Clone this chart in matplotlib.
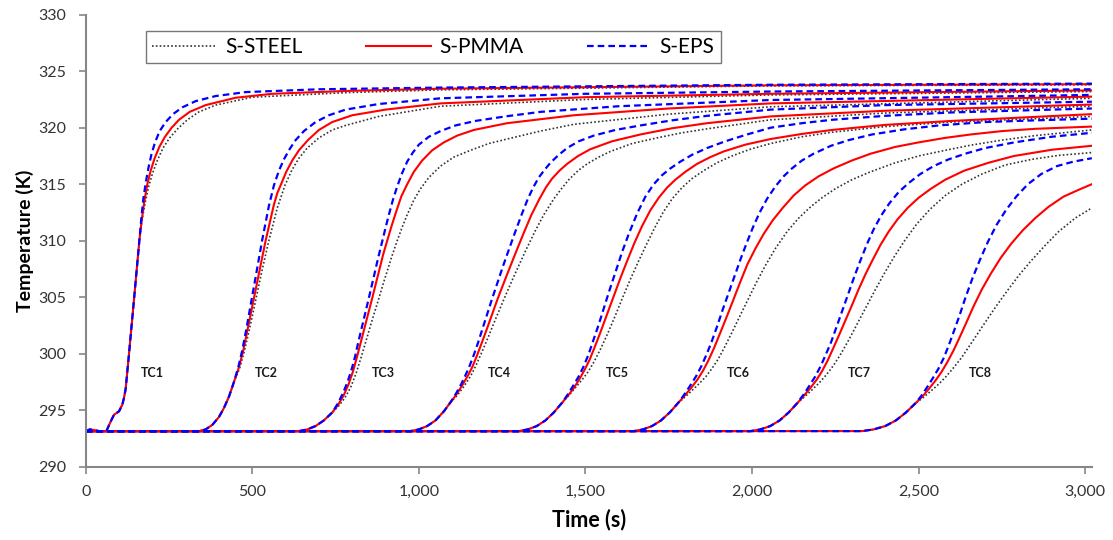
import matplotlib.pyplot as plt
from matplotlib.ticker import FuncFormatter, MultipleLocator

plt.rcParams['font.family'] = ['Lato', 'DejaVu Sans']

# Thermocouple histories TC1..TC8, time in s and temperature in K.
# tcN_base_* is the common start of the three specimens, the per-material
# lists continue from there.
tc1_base_t = [0, 12, 25, 40, 62, 75, 85, 100, 110, 115, 120, 130, 145, 161]
tc1_base = [293.15, 293.3, 293.25, 293.15, 293.15, 294.0, 294.6, 294.9, 295.5, 296.1, 296.9, 300.0, 304.8, 310.0]
tc1_t_steel = [169, 178, 189, 201, 215, 232, 252, 276, 305, 340, 390, 500, 780, 1065, 2056, 3020]
tc1_steel = [311.8, 313.3, 314.8, 316.0, 317.1, 318.2, 319.1, 319.9, 320.7, 321.4, 322.0, 322.7, 323.1, 323.35, 323.7, 323.8]
tc1_t_pmma = [168, 176, 185, 195, 207, 221, 238, 258, 280, 312, 360, 450, 560, 780, 1065, 2056, 3020]
tc1_pmma = [311.8, 313.5, 315.0, 316.2, 317.3, 318.3, 319.2, 320.0, 320.7, 321.4, 322.0, 322.65, 323.0, 323.25, 323.45, 323.75, 323.85]
tc1_t_eps = [167, 173, 180, 188, 197, 208, 222, 240, 262, 290, 330, 390, 480, 700, 1065, 2056, 3020]
tc1_eps = [312.0, 313.7, 315.1, 316.4, 317.6, 318.7, 319.7, 320.5, 321.2, 321.8, 322.35, 322.8, 323.15, 323.4, 323.55, 323.8, 323.9]

tc2_base_t = [0, 340, 360, 380, 400, 415, 430, 445]
tc2_base = [293.15, 293.15, 293.3, 293.7, 294.4, 295.2, 296.2, 297.5]
tc2_t_steel = [462, 476, 491, 505, 525, 548, 575, 598, 618, 640, 665, 700, 740, 780, 880, 1065, 1500, 2056, 3020]
tc2_steel = [298.7, 300.2, 302.1, 304.0, 306.8, 309.8, 312.9, 314.9, 316.2, 317.3, 318.2, 319.1, 319.8, 320.2, 321.0, 321.9, 322.5, 322.9, 323.2]
tc2_t_pmma = [460, 473, 487, 500, 520, 540, 565, 575, 585, 602, 620, 640, 667, 700, 740, 800, 900, 1065, 1500, 2056, 3020]
tc2_pmma = [298.8, 300.3, 302.3, 304.2, 307.1, 310.0, 313.2, 314.2, 314.9, 316.1, 317.1, 318.0, 318.9, 319.8, 320.5, 321.1, 321.6, 322.15, 322.7, 323.0, 323.3]
tc2_t_eps = [458, 470, 483, 495, 512, 530, 550, 565, 580, 595, 612, 630, 655, 690, 730, 780, 880, 1065, 1500, 2056, 3020]
tc2_eps = [298.8, 300.3, 302.3, 304.3, 307.1, 310.1, 313.1, 314.9, 316.2, 317.2, 318.1, 318.9, 319.7, 320.5, 321.1, 321.6, 322.1, 322.6, 323.0, 323.2, 323.4]

tc3_base_t = [0, 640, 665, 690, 715, 740]
tc3_base = [293.15, 293.15, 293.3, 293.6, 294.1, 294.8]
tc3_t_steel = [760, 778, 795, 812, 828, 845, 862, 879, 893, 907, 921, 935, 950, 965, 985, 1005, 1030, 1065,
               1105, 1155, 1210, 1265, 1365, 1465, 1750, 2056, 3020]
tc3_steel = [295.4, 296.1, 297.0, 298.3, 299.8, 301.5, 303.2, 304.8, 306.2, 307.5, 308.8, 310.0, 311.2, 312.3,
             313.6, 314.6, 315.6, 316.6, 317.4, 318.0, 318.6, 319.0, 319.7, 320.3, 321.2, 321.85, 322.6]
tc3_t_pmma = [758, 774, 789, 802, 815, 830, 844, 859, 870, 882, 893, 905, 917, 930, 947, 965, 985, 1010,
              1040, 1075, 1115, 1165, 1265, 1465, 1750, 2056, 3020]
tc3_pmma = [295.5, 296.3, 297.3, 298.4, 299.8, 301.5, 303.1, 304.8, 306.1, 307.5, 308.8, 310.0, 311.2, 312.4,
            313.9, 315.0, 316.1, 317.1, 318.0, 318.7, 319.3, 319.8, 320.4, 321.1, 321.7, 322.15, 322.75]
tc3_t_eps = [757, 772, 786, 799, 809, 818, 831, 844, 856, 867, 878, 888, 898, 910, 922, 935, 950, 965, 982,
             1000, 1030, 1065, 1110, 1170, 1260, 1365, 1600, 2056, 3020]
tc3_eps = [295.6, 296.5, 297.5, 298.7, 299.8, 301.0, 302.6, 304.2, 305.7, 307.1, 308.5, 309.7, 310.9, 312.3,
           313.6, 314.8, 316.0, 317.0, 317.8, 318.5, 319.2, 319.7, 320.2, 320.6, 321.0, 321.4, 321.9, 322.45, 322.9]

tc4_base_t = [0, 974, 1000, 1025, 1050, 1075, 1095]
tc4_base = [293.15, 293.15, 293.3, 293.6, 294.1, 294.9, 295.7]
tc4_t_steel = [1115, 1135, 1155, 1172, 1190, 1210, 1232, 1255, 1280, 1303, 1325, 1348, 1375, 1405, 1428, 1450,
               1478, 1505, 1540, 1575, 1640, 1715, 1790, 1865, 2056, 2400, 3020]
tc4_steel = [296.3, 297.1, 298.0, 299.0, 300.2, 301.6, 303.2, 304.8, 306.5, 308.0, 309.4, 310.8, 312.3, 313.7,
             314.6, 315.4, 316.2, 316.8, 317.4, 317.9, 318.6, 319.1, 319.55, 319.9, 320.7, 321.3, 321.9]
tc4_t_pmma = [1113, 1130, 1146, 1160, 1174, 1188, 1203, 1220, 1237, 1258, 1278, 1297, 1315, 1338, 1362, 1381,
              1400, 1422, 1445, 1478, 1515, 1580, 1665, 1760, 1865, 2056, 2400, 3020]
tc4_pmma = [296.4, 297.2, 298.0, 298.8, 299.8, 300.9, 302.1, 303.5, 304.9, 306.5, 308.0, 309.4, 310.7, 312.3,
            313.7, 314.7, 315.5, 316.2, 316.8, 317.5, 318.1, 318.8, 319.4, 319.95, 320.4, 321.0, 321.5, 322.05]
tc4_t_eps = [1112, 1127, 1140, 1152, 1165, 1178, 1192, 1205, 1218, 1235, 1252, 1270, 1287, 1307, 1327, 1343,
             1360, 1378, 1395, 1420, 1445, 1480, 1525, 1590, 1665, 1760, 1865, 2056, 2400, 3020]
tc4_eps = [296.5, 297.3, 298.1, 298.9, 299.9, 301.0, 302.3, 303.5, 304.7, 306.2, 307.7, 309.2, 310.6, 312.2,
           313.7, 314.7, 315.6, 316.3, 316.9, 317.6, 318.2, 318.8, 319.3, 319.8, 320.2, 320.65, 321.05, 321.6,
           322.0, 322.3]

tc5_base_t = [0, 1300, 1327, 1354, 1380, 1405, 1428]
tc5_base = [293.15, 293.15, 293.3, 293.6, 294.1, 294.8, 295.6]
tc5_t_steel = [1450, 1470, 1490, 1508, 1526, 1545, 1567, 1590, 1612, 1635, 1658, 1682, 1707, 1733, 1760, 1790,
               1820, 1855, 1895, 1940, 1995, 2056, 2150, 2240, 2400, 2600, 3020]
tc5_steel = [296.3, 297.0, 297.7, 298.4, 299.3, 300.4, 301.8, 303.4, 305.0, 306.6, 308.1, 309.6, 311.1, 312.5,
             313.7, 314.7, 315.5, 316.2, 316.9, 317.5, 318.1, 318.6, 319.2, 319.6, 320.1, 320.5, 321.0]
tc5_t_pmma = [1448, 1466, 1483, 1498, 1513, 1528, 1545, 1565, 1585, 1605, 1625, 1647, 1670, 1695, 1720, 1745,
              1770, 1800, 1835, 1875, 1915, 1980, 2056, 2150, 2240, 2400, 2600, 3020]
tc5_pmma = [296.3, 297.0, 297.8, 298.6, 299.5, 300.6, 301.9, 303.5, 305.1, 306.7, 308.2, 309.8, 311.3, 312.7,
            313.8, 314.7, 315.4, 316.1, 316.8, 317.4, 317.9, 318.5, 319.0, 319.45, 319.8, 320.25, 320.6, 321.2]
tc5_t_eps = [1447, 1464, 1480, 1495, 1510, 1525, 1540, 1556, 1572, 1590, 1610, 1630, 1655, 1680, 1705, 1730,
             1755, 1785, 1820, 1865, 1920, 1985, 2056, 2150, 2240, 2400, 2600, 3020]
tc5_eps = [296.4, 297.2, 298.0, 298.9, 300.0, 301.3, 302.6, 304.1, 305.6, 307.2, 309.0, 310.6, 312.4, 313.9,
           315.0, 315.8, 316.4, 317.0, 317.6, 318.2, 318.8, 319.4, 320.0, 320.4, 320.7, 321.05, 321.35, 321.7]

tc6_base_t = [0, 1645, 1673, 1700, 1727, 1753, 1777]
tc6_base = [293.15, 293.15, 293.3, 293.6, 294.1, 294.8, 295.6]
tc6_t_steel = [1800, 1822, 1843, 1862, 1880, 1898, 1918, 1940, 1963, 1988, 2013, 2040, 2070, 2105, 2140, 2176,
               2210, 2250, 2300, 2356, 2430, 2500, 2580, 2656, 2750, 2850, 3020]
tc6_steel = [296.2, 296.8, 297.4, 298.0, 298.7, 299.5, 300.6, 301.9, 303.3, 304.8, 306.3, 307.8, 309.3, 310.8,
             312.0, 313.0, 313.8, 314.6, 315.4, 316.1, 316.9, 317.5, 318.0, 318.45, 318.9, 319.3, 319.8]
tc6_t_pmma = [1798, 1818, 1836, 1853, 1869, 1886, 1904, 1923, 1943, 1964, 1986, 2010, 2035, 2062, 2092, 2125,
              2160, 2200, 2245, 2300, 2356, 2430, 2500, 2580, 2656, 2750, 2850, 3020]
tc6_pmma = [296.3, 297.0, 297.7, 298.5, 299.4, 300.5, 301.8, 303.2, 304.7, 306.3, 307.9, 309.3, 310.6, 311.8,
            312.9, 314.0, 314.9, 315.7, 316.4, 317.1, 317.7, 318.3, 318.7, 319.1, 319.4, 319.7, 319.9, 320.1]
tc6_t_eps = [1797, 1815, 1832, 1848, 1863, 1878, 1895, 1912, 1930, 1948, 1966, 1984, 2003, 2023, 2045, 2070,
             2095, 2120, 2150, 2185, 2237, 2290, 2360, 2456, 2560, 2700, 2850, 3020]
tc6_eps = [296.4, 297.2, 298.0, 298.9, 299.9, 301.0, 302.4, 303.9, 305.4, 306.9, 308.4, 309.8, 311.2, 312.5,
           313.7, 314.8, 315.7, 316.4, 317.1, 317.7, 318.4, 318.9, 319.4, 319.85, 320.2, 320.5, 320.65, 320.8]

tc7_base_t = [0, 1995, 2025, 2055, 2083, 2110, 2135]
tc7_base = [293.15, 293.15, 293.3, 293.6, 294.1, 294.8, 295.6]
tc7_t_steel = [2158, 2180, 2201, 2222, 2243, 2265, 2290, 2315, 2340, 2367, 2395, 2425, 2458, 2495, 2535, 2580,
               2630, 2690, 2760, 2840, 2920, 3020]
tc7_steel = [296.2, 296.8, 297.4, 298.1, 298.9, 299.9, 301.2, 302.6, 304.0, 305.5, 307.0, 308.5, 310.0, 311.5,
             312.8, 314.0, 315.0, 315.9, 316.7, 317.2, 317.55, 317.8]
tc7_t_pmma = [2156, 2176, 2194, 2211, 2227, 2244, 2262, 2281, 2300, 2320, 2340, 2362, 2385, 2410, 2437, 2467,
              2500, 2537, 2580, 2637, 2710, 2787, 2900, 3020]
tc7_pmma = [296.3, 297.0, 297.7, 298.5, 299.4, 300.5, 301.7, 303.0, 304.3, 305.7, 307.0, 308.3, 309.6, 310.8,
            311.9, 312.9, 313.8, 314.6, 315.4, 316.2, 316.9, 317.5, 318.05, 318.4]
tc7_t_eps = [2155, 2173, 2190, 2206, 2221, 2237, 2254, 2272, 2290, 2308, 2326, 2345, 2365, 2387, 2412, 2440,
             2470, 2505, 2545, 2590, 2640, 2700, 2787, 2900, 3020]
tc7_eps = [296.4, 297.2, 298.0, 298.9, 299.9, 301.0, 302.4, 303.9, 305.4, 306.9, 308.3, 309.7, 311.0, 312.2,
           313.3, 314.3, 315.1, 315.9, 316.6, 317.2, 317.7, 318.2, 318.7, 319.2, 319.55]

tc8_base_t = [0, 2330, 2365, 2400, 2432, 2462, 2490]
tc8_base = [293.15, 293.15, 293.3, 293.6, 294.1, 294.8, 295.6]
tc8_t_steel = [2513, 2537, 2560, 2583, 2606, 2630, 2655, 2680, 2705, 2735, 2767, 2800, 2837, 2877, 2920, 2970, 3020]
tc8_steel = [296.1, 296.7, 297.3, 298.0, 298.8, 299.7, 300.8, 301.9, 303.0, 304.3, 305.6, 306.9, 308.2, 309.5,
             310.8, 312.0, 312.9]
tc8_t_pmma = [2511, 2531, 2550, 2569, 2587, 2605, 2624, 2644, 2665, 2690, 2717, 2747, 2777, 2812, 2850, 2890,
              2935, 2980, 3020]
tc8_pmma = [296.2, 296.9, 297.6, 298.4, 299.3, 300.3, 301.5, 302.8, 304.2, 305.7, 307.1, 308.5, 309.7, 310.9,
            312.0, 313.0, 313.9, 314.5, 315.0]
tc8_t_eps = [2509, 2527, 2544, 2560, 2575, 2590, 2606, 2623, 2641, 2662, 2684, 2708, 2734, 2762, 2793, 2828,
             2868, 2915, 2965, 3020]
tc8_eps = [296.3, 297.1, 297.9, 298.7, 299.6, 300.7, 302.0, 303.4, 305.0, 306.7, 308.3, 309.9, 311.4, 312.7,
           313.9, 315.0, 315.9, 316.6, 317.0, 317.3]

tc_names = ['TC1', 'TC2', 'TC3', 'TC4', 'TC5', 'TC6', 'TC7', 'TC8']
tc_label_t = [199, 542, 893, 1242, 1597, 1960, 2321, 2685]
tc_label_temp = 298.3

bases = [(tc1_base_t, tc1_base), (tc2_base_t, tc2_base), (tc3_base_t, tc3_base), (tc4_base_t, tc4_base),
         (tc5_base_t, tc5_base), (tc6_base_t, tc6_base), (tc7_base_t, tc7_base), (tc8_base_t, tc8_base)]
steel_runs = [(tc1_t_steel, tc1_steel), (tc2_t_steel, tc2_steel), (tc3_t_steel, tc3_steel),
              (tc4_t_steel, tc4_steel), (tc5_t_steel, tc5_steel), (tc6_t_steel, tc6_steel),
              (tc7_t_steel, tc7_steel), (tc8_t_steel, tc8_steel)]
pmma_runs = [(tc1_t_pmma, tc1_pmma), (tc2_t_pmma, tc2_pmma), (tc3_t_pmma, tc3_pmma),
             (tc4_t_pmma, tc4_pmma), (tc5_t_pmma, tc5_pmma), (tc6_t_pmma, tc6_pmma),
             (tc7_t_pmma, tc7_pmma), (tc8_t_pmma, tc8_pmma)]
eps_runs = [(tc1_t_eps, tc1_eps), (tc2_t_eps, tc2_eps), (tc3_t_eps, tc3_eps),
            (tc4_t_eps, tc4_eps), (tc5_t_eps, tc5_eps), (tc6_t_eps, tc6_eps),
            (tc7_t_eps, tc7_eps), (tc8_t_eps, tc8_eps)]

styles = [
    ('S-STEEL', steel_runs, dict(color='#333333', lw=1.2, linestyle=(0, (1, 1.3)))),
    ('S-PMMA', pmma_runs, dict(color='#ff0000', lw=1.5)),
    ('S-EPS', eps_runs, dict(color='#0000ff', lw=1.6, linestyle=(0, (3, 1.8)))),
]

fig = plt.figure(figsize=(11.13, 5.40), dpi=100)
ax = fig.add_axes([0.077, 0.1357, 0.904, 0.8371])

for name, runs, kw in styles:
    for i, (t, k) in enumerate(runs):
        bt, bk = bases[i]
        ax.plot(bt + t, bk + k, label=name if i == 0 else None, **kw)

for name, x in zip(tc_names, tc_label_t):
    ax.text(x, tc_label_temp, name, ha='center', va='center', fontsize=9,
            fontweight='bold', color='#1a1a1a')

ax.set_xlim(0, 3020)
ax.set_ylim(290, 330)
ax.xaxis.set_major_locator(MultipleLocator(500))
ax.yaxis.set_major_locator(MultipleLocator(5))
ax.xaxis.set_major_formatter(FuncFormatter(lambda v, p: f'{int(v):,}'))

for side in ['top', 'right']:
    ax.spines[side].set_visible(False)
for side in ['left', 'bottom']:
    ax.spines[side].set_color('#868686')
    ax.spines[side].set_linewidth(1.5)
ax.tick_params(axis='both', direction='out', length=5, width=1.2, color='#868686',
               labelsize=11.5, labelcolor='#333333')
ax.tick_params(axis='x', pad=8)
ax.tick_params(axis='y', pad=9)

ax.set_xlabel('Time (s)', fontsize=15.5, fontweight='bold', labelpad=7)
ax.set_ylabel('Temperature (K)', fontsize=14, fontweight='bold', labelpad=3)

leg = ax.legend(loc='lower left', bbox_to_anchor=(0.06, 0.893, 0.571, 0.095), mode='expand',
                ncol=3, fontsize=15, handlelength=3.1, frameon=True, fancybox=False,
                borderaxespad=0, handletextpad=0.4, borderpad=0.3)
leg.get_frame().set_edgecolor('#555555')
leg.get_frame().set_linewidth(1.0)

fig.savefig('out.png', dpi=100)
